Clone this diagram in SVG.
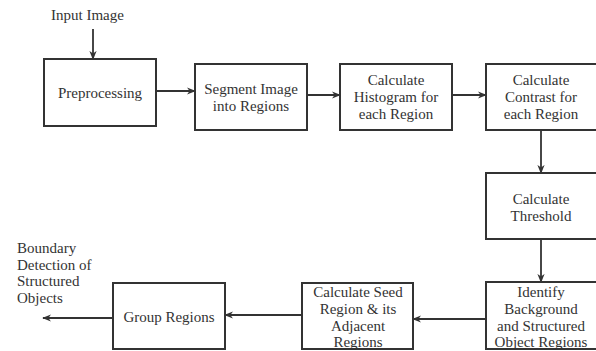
<svg xmlns="http://www.w3.org/2000/svg" width="596" height="351" viewBox="0 0 596 351">
<style>
.box{fill:#fff;stroke:#333;stroke-width:2}
.t{font-family:"Liberation Serif","Times New Roman",serif;font-size:15px;fill:#333;text-anchor:middle}
.tl{font-family:"Liberation Serif","Times New Roman",serif;font-size:15px;fill:#333}
.c{stroke:#333;stroke-width:1.8;fill:none;marker-end:url(#ah)}
</style>
<defs>
<marker id="ah" viewBox="0 0 10 10" refX="9" refY="5" markerWidth="5" markerHeight="5" orient="auto" markerUnits="strokeWidth">
<path d="M0,1 L10,5 L0,9 L3,5 Z" fill="#333"/>
</marker>
</defs>
<rect width="596" height="351" fill="#fff"/>
<g id="connectors">
<line class="c" x1="93" y1="29" x2="93" y2="59"/>
<line class="c" x1="156" y1="91" x2="195" y2="91"/>
<line class="c" x1="307" y1="95" x2="340" y2="95"/>
<line class="c" x1="452" y1="95" x2="486" y2="95"/>
<line class="c" x1="541" y1="130" x2="541" y2="173"/>
<line class="c" x1="541" y1="239" x2="541" y2="282"/>
<line class="c" x1="486" y1="319" x2="413" y2="319"/>
<line class="c" x1="302" y1="315" x2="225" y2="315"/>
<line class="c" x1="113" y1="318" x2="43" y2="318"/>
</g>
<g id="input"><text class="tl" x="51" y="20">Input Image</text></g>
<g id="output"><text class="tl" x="17" y="253">Boundary</text><text class="tl" x="17" y="270">Detection of</text><text class="tl" x="17" y="286">Structured</text><text class="tl" x="17" y="303">Objects</text></g>
<g id="preprocessing"><rect class="box" x="44" y="59" width="112" height="67"/><text class="t" x="100" y="98">Preprocessing</text></g>
<g id="segment"><rect class="box" x="195" y="64" width="112" height="66"/><text class="t" x="251" y="94">Segment Image</text><text class="t" x="251" y="111">into Regions</text></g>
<g id="histogram"><rect class="box" x="340" y="64" width="112" height="66"/><text class="t" x="396" y="85">Calculate</text><text class="t" x="396" y="102">Histogram for</text><text class="t" x="396" y="119">each Region</text></g>
<g id="contrast"><rect class="box" x="486" y="64" width="111" height="66"/><text class="t" x="541" y="85">Calculate</text><text class="t" x="541" y="102">Contrast for</text><text class="t" x="541" y="119">each Region</text></g>
<g id="threshold"><rect class="box" x="486" y="173" width="111" height="66"/><text class="t" x="541" y="204">Calculate</text><text class="t" x="541" y="221">Threshold</text></g>
<g id="identify"><rect class="box" x="486" y="282" width="111" height="67"/><text class="t" x="541" y="297">Identify</text><text class="t" x="541" y="314">Background</text><text class="t" x="541" y="331">and Structured</text><text class="t" x="541" y="347">Object Regions</text></g>
<g id="seed"><rect class="box" x="302" y="283" width="111" height="66"/><text class="t" x="358" y="297">Calculate Seed</text><text class="t" x="358" y="314">Region &amp; its</text><text class="t" x="358" y="331">Adjacent</text><text class="t" x="358" y="347">Regions</text></g>
<g id="group"><rect class="box" x="113" y="283" width="112" height="66"/><text class="t" x="169" y="322">Group Regions</text></g>
</svg>
